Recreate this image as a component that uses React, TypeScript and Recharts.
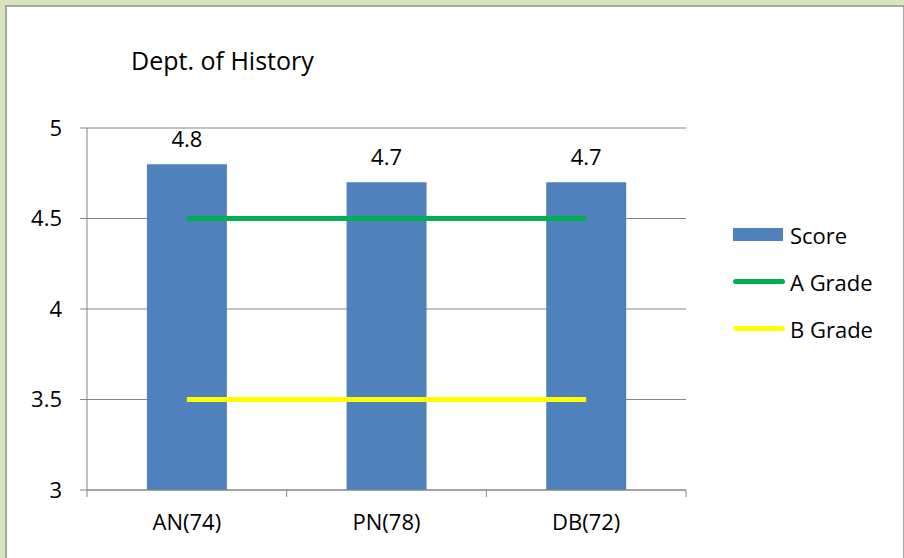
import React from 'react';
import { ComposedChart, Bar, Line, XAxis, YAxis, CartesianGrid, LabelList } from 'recharts';

const categories = ['AN(74)', 'PN(78)', 'DB(72)'];
const scores = [4.8, 4.7, 4.7];
const aGrade = [4.5, 4.5, 4.5];
const bGrade = [3.5, 3.5, 3.5];
const yTicks = [3, 3.5, 4, 4.5, 5];

const FONT = '"Open Sans", sans-serif';
const AXIS_GRAY = '#868686';

const data = categories.map((name, i) => ({
    name,
    score: scores[i],
    aGrade: aGrade[i],
    bGrade: bGrade[i],
}));

// category ticks sit between the bars, like Excel
const CategoryTick = (props: any) => {
    const { x, y, payload, index } = props;
    const half = payload.offset ?? 0;
    const last = index === categories.length - 1;
    return (
        <g>
            <line x1={x - half} x2={x - half} y1={y - 8} y2={y - 1} stroke={AXIS_GRAY} strokeWidth={1} />
            {last && <line x1={x + half} x2={x + half} y1={y - 8} y2={y - 1} stroke={AXIS_GRAY} strokeWidth={1} />}
            <text x={x} y={y + 32} textAnchor="middle" fontSize={22} fill="#000" fontFamily={FONT}>
                {payload.value}
            </text>
        </g>
    );
};

const LegendBox = () => (
    <div style={{ fontFamily: FONT, fontSize: 22, color: '#000', lineHeight: '30px' }}>
        <div style={{ display: 'flex', alignItems: 'center', height: 47 }}>
            <div style={{ width: 50, height: 13, background: '#4f81bd', marginRight: 7 }} />
            <span>Score</span>
        </div>
        <div style={{ display: 'flex', alignItems: 'center', height: 47 }}>
            <div style={{ width: 52, height: 5, borderRadius: 3, background: '#00b050', marginRight: 5 }} />
            <span>A Grade</span>
        </div>
        <div style={{ display: 'flex', alignItems: 'center', height: 47 }}>
            <div style={{ width: 52, height: 5, borderRadius: 3, background: '#ffff00', marginRight: 5 }} />
            <span>B Grade</span>
        </div>
    </div>
);

const App: React.FC = () => {
    return (
        <div style={{ position: 'absolute', left: 0, top: 0, width: 904, height: 558, background: '#d7e4bd', overflow: 'hidden' }}>
            <div
                style={{
                    position: 'absolute',
                    left: 5,
                    top: 5,
                    width: 896,
                    height: 600,
                    background: '#fff',
                    borderLeft: '2px solid #a6a6a6',
                    borderTop: '2px solid #a6a6a6',
                    borderRight: '2px solid #a6a6a6',
                }}
            />
            <div style={{ position: 'absolute', left: 131, top: 43, fontFamily: FONT, fontSize: 25, lineHeight: '34px', color: '#000' }}>
                Dept. of History
            </div>
            <div style={{ position: 'absolute', left: 0, top: 0 }}>
                <ComposedChart
                    width={904}
                    height={558}
                    data={data}
                    margin={{ top: 128, right: 218, bottom: 0, left: 27 }}
                    barCategoryGap="30%"
                >
                    <CartesianGrid vertical={false} stroke={AXIS_GRAY} strokeWidth={1} />
                    <XAxis
                        dataKey="name"
                        axisLine={{ stroke: AXIS_GRAY }}
                        tickLine={false}
                        tick={<CategoryTick />}
                        interval={0}
                        height={68}
                    />
                    <YAxis
                        domain={[3, 5]}
                        ticks={yTicks}
                        width={60}
                        axisLine={{ stroke: AXIS_GRAY }}
                        tickLine={{ stroke: AXIS_GRAY }}
                        tickSize={7}
                        tickMargin={18}
                        tick={{ fontSize: 22, fill: '#000', fontFamily: FONT }}
                    />
                    <Bar dataKey="score" name="Score" fill="#4f81bd" isAnimationActive={false}>
                        <LabelList dataKey="score" position="top" offset={17} fontSize={22} fill="#000" fontFamily={FONT} />
                    </Bar>
                    <Line dataKey="aGrade" name="A Grade" stroke="#00b050" strokeWidth={5} dot={false} isAnimationActive={false} />
                    <Line dataKey="bGrade" name="B Grade" stroke="#ffff00" strokeWidth={5} dot={false} isAnimationActive={false} />
                </ComposedChart>
            </div>
            <div style={{ position: 'absolute', left: 733, top: 211 }}>
                <LegendBox />
            </div>
        </div>
    );
};

export default App;
